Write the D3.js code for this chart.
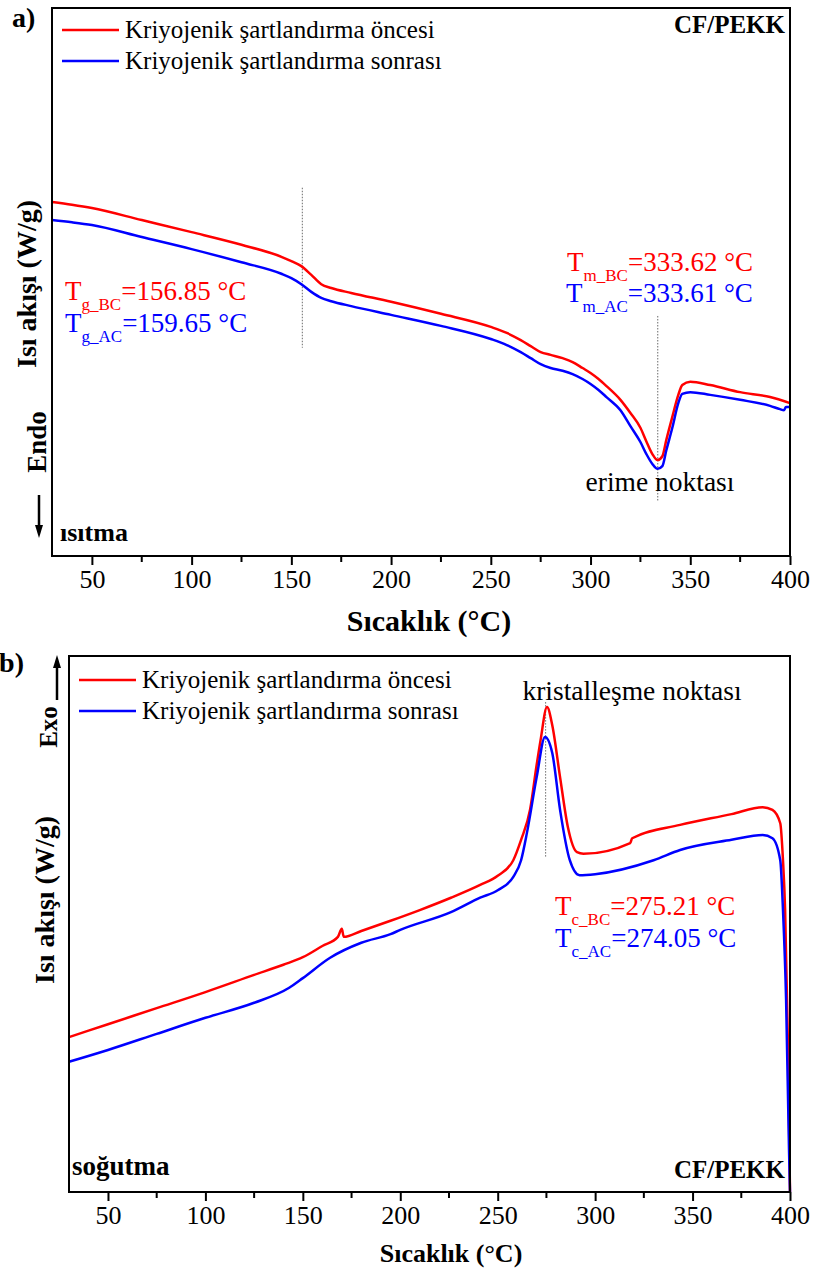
<!DOCTYPE html>
<html>
<head>
<meta charset="utf-8">
<script src="https://cdn.jsdelivr.net/npm/d3@7"></script>
<style>
  body { margin: 0; background: #fff; }
  svg text { font-family: "Liberation Serif", "Times New Roman", serif; }
</style>
</head>
<body>
<svg id="chart" width="816" height="1275" font-family="Liberation Serif"></svg>
<script>
// heat flow in arbitrary units (0 = frame bottom, 100 = frame top)
const heatingBC = [
  [30, 64.6], [40, 64.1], [50, 63.5], [75, 61.3], [100, 59.1], [125, 56.8], [145, 54.6],
  [150, 53.8], [155, 52.9], [160, 51.3], [165, 49.6], [170, 48.9], [180, 48.0], [200, 46.4],
  [225, 44.2], [250, 41.8], [258, 40.7], [265, 39.4], [270, 38.3], [275, 37.2], [280, 36.7],
  [286, 36.1], [291, 35.4], [296, 34.3], [300, 33.4], [304, 32.3], [308, 31.0], [315, 28.5],
  [320, 26.1], [325, 23.4], [328, 20.9], [331, 18.6], [333.6, 17.5], [336, 18.2], [338, 21.2],
  [341, 25.4], [344, 29.4], [346, 31.2], [350, 31.8], [360, 31.2], [375, 29.9], [390, 29.0],
  [400, 27.9]
];
const heatingAC = [
  [30, 61.3], [40, 60.9], [50, 60.4], [75, 58.2], [100, 56.0], [125, 53.6], [145, 51.5],
  [150, 50.7], [155, 49.6], [160, 48.2], [165, 47.1], [170, 46.5], [180, 45.6], [200, 44.0],
  [225, 42.0], [250, 39.6], [258, 38.5], [265, 37.2], [270, 36.1], [275, 35.0], [280, 34.3],
  [286, 33.8], [291, 33.2], [296, 32.3], [300, 31.4], [304, 30.3], [308, 29.0], [315, 26.6],
  [320, 23.7], [325, 20.8], [328, 18.6], [331, 16.8], [333.6, 15.9], [336, 16.4], [338, 19.3],
  [341, 23.4], [344, 27.9], [346, 29.6], [350, 29.9], [360, 29.4], [375, 28.5], [390, 27.4],
  [395, 26.8], [397, 26.6], [398, 27.2], [400, 27.2]
];
const coolingBC = [
  [30, 28.9], [50, 31.3], [75, 34.3], [100, 37.3], [125, 40.5], [140, 42.4], [150, 43.8],
  [160, 45.9], [168, 47.6], [170, 49.1], [171, 47.6], [180, 48.7], [195, 50.6], [210, 52.6],
  [226, 54.9], [241, 57.3], [250, 59.0], [258, 61.9], [262, 65.7], [266.6, 71.3], [270, 79.7],
  [272, 84.3], [275.3, 90.5], [278, 87.1], [282, 77.4], [286, 68.1], [290.7, 63.4], [294, 63.1],
  [318, 65.1], [319, 66.0], [343.6, 68.5], [370, 70.5], [386, 71.8], [391, 71.3], [395, 68.8],
  [396.4, 61.9], [397.5, 52.6], [399, 26.5], [400, 0]
];
const coolingAC = [
  [30, 24.3], [50, 26.5], [75, 29.5], [100, 32.5], [125, 35.3], [143, 38.1], [150, 39.9],
  [164, 43.7], [180, 46.5], [195, 48.1], [200, 48.9], [226, 52.2], [241, 54.9], [250, 56.3],
  [258, 58.8], [262, 61.9], [265, 67.0], [270, 77.4], [274.3, 84.9], [278, 81.9], [282, 71.3],
  [287, 61.9], [292, 59.1], [300, 59.3], [330, 61.9], [343.6, 63.8], [370, 65.7], [386, 66.6],
  [391, 66.0], [395, 61.9], [396.4, 52.6], [398, 35.8], [399.5, 7.8], [400, 0]
];

const legendLabels = ["Kriyojenik şartlandırma öncesi", "Kriyojenik şartlandırma sonrası"];
const majorTicks = [50, 100, 150, 200, 250, 300, 350, 400];
const minorTicks = [75, 125, 175, 225, 275, 325, 375];
const xDomain = [30, 400];

// dotted guide lines: [temperature, from, to] in heat-flow units
const heatingGuides = [[155.5, 67.2, 38.0], [333.7, 43.8, 10.0]];
const coolingGuides = [[274.6, 91.4, 62.5]];

const colors = ["#ff0000", "#0000ff"];
const FONT = "Liberation Serif";
const svg = d3.select("#chart");

function drawPanel(p) {
  const x = d3.scaleLinear().domain(xDomain).range([p.left, p.right]);
  const y = d3.scaleLinear().domain([0, 100]).range([p.bottom, p.top]);
  const g = svg.append("g").attr("font-family", FONT);

  const line = d3.line()
    .x(d => x(d[0]))
    .y(d => y(d[1]))
    .curve(d3.curveMonotoneX);

  g.selectAll(".guide")
    .data(p.guides)
    .join("line")
      .attr("x1", d => x(d[0])).attr("x2", d => x(d[0]))
      .attr("y1", d => y(d[1])).attr("y2", d => y(d[2]))
      .attr("stroke", "#444").attr("stroke-width", 0.8)
      .attr("stroke-dasharray", "1.5,1.5");

  g.selectAll(".curve")
    .data(p.series)
    .join("path")
      .attr("d", line)
      .attr("fill", "none")
      .attr("stroke", (d, i) => colors[i])
      .attr("stroke-width", 2.5)
      .attr("stroke-linejoin", "round");

  // frame
  g.append("rect")
    .attr("x", p.left).attr("y", p.top)
    .attr("width", p.right - p.left).attr("height", p.bottom - p.top)
    .attr("fill", "none").attr("stroke", "#000").attr("stroke-width", 2);

  const axis = g.append("g").attr("transform", `translate(0,${p.bottom})`)
    .call(d3.axisBottom(x).tickValues(majorTicks).tickSize(9).tickPadding(5).tickFormat(d3.format("d")))
    .attr("font-family", FONT).attr("font-size", 26);
  axis.select(".domain").remove();
  axis.selectAll("line").attr("stroke-width", 2);
  axis.selectAll("text").attr("fill", "#000");

  g.append("g").attr("transform", `translate(0,${p.bottom})`)
    .selectAll("line")
    .data(minorTicks)
    .join("line")
      .attr("x1", d => x(d)).attr("x2", d => x(d))
      .attr("y1", 0).attr("y2", 6)
      .attr("stroke", "#000").attr("stroke-width", 2);

  g.append("text")
    .attr("x", p.titleX).attr("y", p.bottom + p.titleOffset)
    .attr("text-anchor", "middle")
    .attr("font-weight", "bold").attr("font-size", p.titleSize)
    .text("Sıcaklık (°C)");

  g.append("text")
    .attr("transform", `translate(${p.yTitleX},${p.yTitleY}) rotate(-90)`)
    .attr("text-anchor", "middle")
    .attr("font-weight", "bold").attr("font-size", 28)
    .text("Isı akışı (W/g)");

  // legend
  const leg = g.append("g");
  legendLabels.forEach((lab, i) => {
    const ly = p.legendY + i * 31;
    leg.append("line")
      .attr("x1", p.left + 10).attr("x2", p.left + 67)
      .attr("y1", ly).attr("y2", ly)
      .attr("stroke", colors[i]).attr("stroke-width", 2.5);
    leg.append("text")
      .attr("x", p.left + 73).attr("y", ly + 8)
      .attr("font-size", 25)
      .text(lab);
  });

  return { g, x, y };
}

function tempLabel(g, xPos, yPos, sub, value, color) {
  const t = g.append("text").attr("x", xPos).attr("y", yPos).attr("fill", color).attr("font-size", 27);
  t.append("tspan").text("T");
  t.append("tspan").attr("font-size", 17).attr("dy", 10).text(sub);
  t.append("tspan").attr("dy", -10).text("=" + value + " °C");
}

function arrow(g, x0, yFrom, yTo) {
  const dir = yTo > yFrom ? 1 : -1;
  g.append("line")
    .attr("x1", x0).attr("x2", x0)
    .attr("y1", yFrom).attr("y2", yTo - dir * 10)
    .attr("stroke", "#000").attr("stroke-width", 2.5);
  g.append("path")
    .attr("d", `M${x0 - 4},${yTo - dir * 13} L${x0 + 4},${yTo - dir * 13} L${x0},${yTo} Z`)
    .attr("fill", "#000");
}

// ---- panel a: heating
const a = drawPanel({
  left: 52, right: 790, top: 8, bottom: 556,
  titleX: 429, titleOffset: 75, titleSize: 30,
  series: [heatingBC, heatingAC], guides: heatingGuides,
  legendY: 30, yTitleX: 36, yTitleY: 284
});
a.g.append("text").attr("x", 12).attr("y", 27).attr("font-weight", "bold").attr("font-size", 28).text("a)");
a.g.append("text").attr("x", 785).attr("y", 33).attr("text-anchor", "end")
  .attr("font-weight", "bold").attr("font-size", 25).text("CF/PEKK");
a.g.append("text").attr("x", 60).attr("y", 541).attr("font-weight", "bold").attr("font-size", 26).text("ısıtma");
a.g.append("text").attr("transform", "translate(46,442) rotate(-90)").attr("text-anchor", "middle")
  .attr("font-weight", "bold").attr("font-size", 27).text("Endo");
arrow(a.g, 39, 495, 538);
tempLabel(a.g, 65, 300, "g_BC", "156.85", colors[0]);
tempLabel(a.g, 65, 332, "g_AC", "159.65", colors[1]);
tempLabel(a.g, 567, 271, "m_BC", "333.62", colors[0]);
tempLabel(a.g, 566, 302, "m_AC", "333.61", colors[1]);
a.g.append("text").attr("x", 660).attr("y", 491).attr("text-anchor", "middle")
  .attr("font-size", 27.5).text("erime noktası");

// ---- panel b: cooling
const b = drawPanel({
  left: 69, right: 790, top: 656, bottom: 1192,
  titleX: 451, titleOffset: 70, titleSize: 26,
  series: [coolingBC, coolingAC], guides: coolingGuides,
  legendY: 680, yTitleX: 54, yTitleY: 900
});
b.g.append("text").attr("x", 24).attr("y", 672).attr("text-anchor", "end")
  .attr("font-weight", "bold").attr("font-size", 28).text("b)");
b.g.append("text").attr("transform", "translate(57,727) rotate(-90)").attr("text-anchor", "middle")
  .attr("font-weight", "bold").attr("font-size", 25).text("Exo");
arrow(b.g, 57, 700, 655);
b.g.append("text").attr("x", 72).attr("y", 1175).attr("font-weight", "bold").attr("font-size", 27).text("soğutma");
b.g.append("text").attr("x", 785).attr("y", 1178).attr("text-anchor", "end")
  .attr("font-weight", "bold").attr("font-size", 25).text("CF/PEKK");
b.g.append("text").attr("x", 632).attr("y", 700).attr("text-anchor", "middle")
  .attr("font-size", 27.5).text("kristalleşme noktası");
tempLabel(b.g, 555, 915, "c_BC", "275.21", colors[0]);
tempLabel(b.g, 555, 947, "c_AC", "274.05", colors[1]);
</script>
</body>
</html>
